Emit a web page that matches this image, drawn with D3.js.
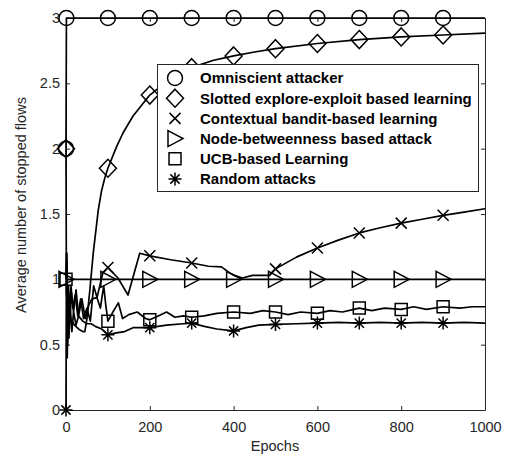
<!DOCTYPE html>
<html>
<head>
<meta charset="utf-8">
<script src="https://cdn.jsdelivr.net/npm/d3@7"></script>
<style>
  body { margin: 0; background: #fff; }
  svg { display: block; }
  text { font-family: Arial, "Liberation Sans", sans-serif; }
</style>
</head>
<body>
<svg id="chart" width="509" height="456"></svg>
<script>
// series names (legend order)
const seriesNames = [
  'Omniscient attacker',
  'Slotted explore-exploit based learning',
  'Contextual bandit-based learning',
  'Node-betweenness based attack',
  'UCB-based Learning',
  'Random attacks'
];
const markerTypes = ['circle', 'diamond', 'cross', 'triangle', 'square', 'star'];

const xTicks = [0, 200, 400, 600, 800, 1000];
const yTicks = [0, 0.5, 1, 1.5, 2, 2.5, 3];

const omniEpochs = [0, 1, 100, 200, 300, 400, 500, 600, 700, 800, 900, 1000];
const omniValues = [2, 3, 3, 3, 3, 3, 3, 3, 3, 3, 3, 3];
const omniMarkers = [0, 1, 100, 200, 300, 400, 500, 600, 700, 800, 900];

const slotEpochs = [0, 1, 5, 10, 20, 30, 40, 45, 50, 57, 65, 77, 85, 93, 100, 120, 136, 160, 200, 250, 300, 350, 400, 450, 500, 600, 700, 800, 900, 1000];
const slotValues = [2, 0.9, 0.75, 0.7, 0.65, 0.62, 0.6, 0.6, 0.7, 0.92, 1.2, 1.53, 1.68, 1.78, 1.85, 2.01, 2.12, 2.25, 2.41, 2.54, 2.62, 2.675, 2.71, 2.74, 2.765, 2.805, 2.835, 2.855, 2.87, 2.885];
const slotMarkers = [0, 100, 200, 300, 400, 500, 600, 700, 800, 900];

const ctxEpochs = [0, 2, 4, 6, 9, 13, 18, 24, 30, 38, 46, 54, 62, 74, 88, 100, 124, 148, 176, 200, 250, 300, 340, 371, 390, 402, 421, 445, 486, 500, 550, 600, 650, 700, 750, 800, 850, 900, 950, 1000];
const ctxValues = [1.0, 1.2, 0.5, 0.95, 0.7, 0.9, 0.75, 0.92, 0.72, 0.85, 0.7, 0.8, 0.85, 0.86, 1.05, 1.09, 1.01, 0.88, 1.2, 1.18, 1.15, 1.125, 1.1, 1.095, 1.05, 1.03, 1.01, 1.03, 1.03, 1.08, 1.17, 1.24, 1.3, 1.355, 1.395, 1.43, 1.46, 1.49, 1.515, 1.54];
const ctxMarkers = [100, 200, 300, 400, 500, 600, 700, 800, 900];

const nodeEpochs = [0, 100, 200, 300, 400, 500, 600, 700, 800, 900, 1000];
const nodeValues = [1, 1, 1, 1, 1, 1, 1, 1, 1, 1, 1];
const nodeMarkers = [0, 100, 200, 300, 400, 500, 600, 700, 800, 900];

const ucbEpochs = [0, 2, 4, 6, 8, 12, 16, 22, 28, 35, 42, 50, 58, 66, 75, 82, 90, 95, 100, 112, 125, 135, 150, 170, 190, 200, 220, 240, 260, 280, 300, 330, 360, 400, 440, 470, 500, 530, 560, 600, 630, 660, 700, 730, 760, 800, 830, 860, 900, 940, 970, 1000];
const ucbValues = [1.0, 1.15, 0.6, 0.9, 0.7, 0.95, 0.78, 0.88, 0.72, 0.85, 0.7, 0.78, 0.68, 0.95, 0.85, 0.78, 0.95, 0.8, 0.68, 0.75, 0.82, 0.7, 0.73, 0.75, 0.7, 0.69, 0.72, 0.75, 0.71, 0.72, 0.71, 0.72, 0.74, 0.75, 0.74, 0.76, 0.75, 0.73, 0.75, 0.74, 0.76, 0.75, 0.78, 0.76, 0.78, 0.77, 0.79, 0.77, 0.79, 0.78, 0.79, 0.79];
const ucbMarkers = [0, 100, 200, 300, 400, 500, 600, 700, 800, 900];

const randEpochs = [0, 1, 3, 5, 7, 10, 14, 18, 24, 30, 40, 50, 60, 70, 85, 100, 120, 140, 160, 200, 240, 280, 300, 330, 360, 400, 430, 460, 500, 550, 600, 650, 700, 750, 800, 850, 900, 950, 1000];
const randValues = [0, 1.2, 0.4, 0.9, 0.55, 0.8, 0.6, 0.75, 0.65, 0.72, 0.68, 0.66, 0.66, 0.64, 0.62, 0.575, 0.59, 0.6, 0.63, 0.63, 0.65, 0.66, 0.665, 0.64, 0.62, 0.605, 0.63, 0.65, 0.655, 0.66, 0.665, 0.67, 0.665, 0.67, 0.665, 0.67, 0.665, 0.67, 0.665];
const randMarkers = [0, 100, 200, 300, 400, 500, 600, 700, 800, 900];

const allEpochs = [omniEpochs, slotEpochs, ctxEpochs, nodeEpochs, ucbEpochs, randEpochs];
const allValues = [omniValues, slotValues, ctxValues, nodeValues, ucbValues, randValues];
const allMarkers = [omniMarkers, slotMarkers, ctxMarkers, nodeMarkers, ucbMarkers, randMarkers];

const series = seriesNames.map((name, i) => ({
  name: name,
  marker: markerTypes[i],
  points: allEpochs[i].map((e, j) => ({ epoch: e, value: allValues[i][j] })),
  markerEpochs: allMarkers[i]
}));

const svg = d3.select('#chart');
const axisColor = '#262626';

const x = d3.scaleLinear().domain([0, 1000]).range([66, 485]);
const y = d3.scaleLinear().domain([0, 3]).range([410, 18]);

// axes, MATLAB style with ticks inside and a full box
function styleAxis(g) {
  g.select('.domain').attr('stroke', axisColor).attr('stroke-width', 1);
  g.selectAll('.tick line').attr('stroke', axisColor).attr('stroke-width', 1);
  g.selectAll('.tick text').attr('fill', axisColor).style('font-size', '14.5px').attr('font-family', null);
}

svg.append('g')
  .attr('transform', 'translate(0,410)')
  .call(d3.axisBottom(x).tickValues(xTicks).tickSizeInner(-4).tickSizeOuter(0).tickPadding(12).tickFormat(d3.format('d')))
  .call(styleAxis);

svg.append('g')
  .attr('transform', 'translate(0,18)')
  .call(d3.axisTop(x).tickValues(xTicks).tickSizeInner(-4).tickSizeOuter(0).tickFormat(''))
  .call(styleAxis);

svg.append('g')
  .attr('transform', 'translate(66,0)')
  .call(d3.axisLeft(y).tickValues(yTicks).tickSizeInner(-4).tickSizeOuter(0).tickPadding(6).tickFormat(d3.format('~g')))
  .call(styleAxis);

svg.append('g')
  .attr('transform', 'translate(485,0)')
  .call(d3.axisRight(y).tickValues(yTicks).tickSizeInner(-4).tickSizeOuter(0).tickFormat(''))
  .call(styleAxis);

svg.append('text')
  .attr('x', 275).attr('y', 451)
  .attr('text-anchor', 'middle')
  .attr('fill', axisColor)
  .style('font-size', '14.5px')
  .text('Epochs');

svg.append('text')
  .attr('transform', 'translate(26,205) rotate(-90)')
  .attr('text-anchor', 'middle')
  .attr('fill', axisColor)
  .style('font-size', '14.5px')
  .text('Average number of stopped flows');

// marker shapes
function markerPath(type) {
  const p = d3.path();
  if (type === 'circle') {
    p.moveTo(7.5, 0); p.arc(0, 0, 7.5, 0, 2 * Math.PI);
  } else if (type === 'diamond') {
    p.moveTo(0, -9); p.lineTo(8.5, 0); p.lineTo(0, 9); p.lineTo(-8.5, 0); p.closePath();
  } else if (type === 'cross') {
    p.moveTo(-5.5, -5.5); p.lineTo(5.5, 5.5); p.moveTo(-5.5, 5.5); p.lineTo(5.5, -5.5);
  } else if (type === 'triangle') {
    p.moveTo(-7, -8); p.lineTo(8, 0); p.lineTo(-7, 8); p.closePath();
  } else if (type === 'square') {
    p.rect(-6, -6, 12, 12);
  } else if (type === 'star') {
    p.moveTo(-6.5, 0); p.lineTo(6.5, 0); p.moveTo(0, -6.5); p.lineTo(0, 6.5);
    p.moveTo(-4.6, -4.6); p.lineTo(4.6, 4.6); p.moveTo(-4.6, 4.6); p.lineTo(4.6, -4.6);
  }
  return p.toString();
}

const line = d3.line().x(d => x(d.epoch)).y(d => y(d.value));

const plot = svg.append('g');
series.forEach(s => {
  plot.append('path')
    .datum(s.points)
    .attr('d', line)
    .attr('fill', 'none')
    .attr('stroke', '#000')
    .attr('stroke-width', 1.7)
    .attr('stroke-linejoin', 'round');

  plot.selectAll(null)
    .data(s.points.filter(d => s.markerEpochs.includes(d.epoch)))
    .enter().append('path')
    .attr('transform', d => `translate(${x(d.epoch)},${y(d.value)})`)
    .attr('d', markerPath(s.marker))
    .attr('fill', 'none')
    .attr('stroke', '#000')
    .attr('stroke-width', 1.5);
});

// legend
const legend = svg.append('g');
legend.append('rect')
  .attr('x', 157.5).attr('y', 64.5)
  .attr('width', 321).attr('height', 127)
  .attr('fill', '#fff')
  .attr('stroke', axisColor)
  .attr('stroke-width', 1);

const rows = legend.selectAll('g.row')
  .data(series)
  .enter().append('g')
  .attr('class', 'row')
  .attr('transform', (d, i) => `translate(0,${78 + i * 20.2})`);

rows.append('path')
  .attr('transform', 'translate(175,0)')
  .attr('d', d => markerPath(d.marker))
  .attr('fill', 'none')
  .attr('stroke', '#000')
  .attr('stroke-width', 1.5);

rows.append('text')
  .attr('x', 200).attr('dy', '0.36em')
  .attr('fill', '#000')
  .style('font-size', '15px')
  .style('font-weight', 'bold')
  .text(d => d.name);
</script>
</body>
</html>
